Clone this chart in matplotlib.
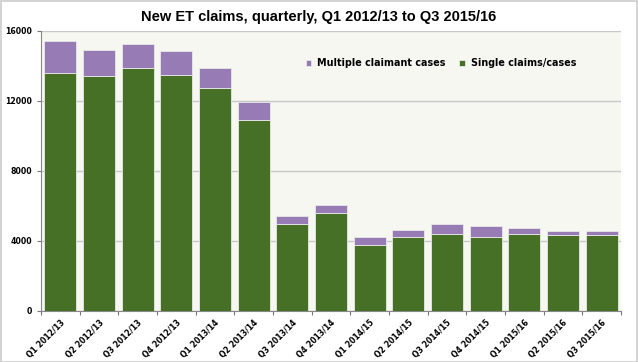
import matplotlib as mpl
import matplotlib.pyplot as plt
from matplotlib.patches import Rectangle

quarters = ['Q1 2012/13', 'Q2 2012/13', 'Q3 2012/13', 'Q4 2012/13',
            'Q1 2013/14', 'Q2 2013/14', 'Q3 2013/14', 'Q4 2013/14',
            'Q1 2014/15', 'Q2 2014/15', 'Q3 2014/15', 'Q4 2014/15',
            'Q1 2015/16', 'Q2 2015/16', 'Q3 2015/16']
single = [13580, 13410, 13870, 13490, 12720, 10910, 4970, 5600,
          3770, 4230, 4380, 4210, 4420, 4320, 4320]
multiple = [1850, 1500, 1390, 1350, 1160, 1030, 480, 460,
            440, 420, 610, 650, 340, 230, 270]

green = '#457025'
purple = '#977bb4'

mpl.rcParams['font.family'] = 'DejaVu Sans'

fig = plt.figure(figsize=(6.38, 3.62), dpi=100)
ax = fig.add_axes([41 / 638, 1 - 311 / 362, 580 / 638, 280 / 362])
ax.set_facecolor('#f6f7f1')

x = range(len(quarters))
ax.bar(x, single, 0.83, color=green, edgecolor='#e8e8e8', linewidth=0.6,
       label='Single claims/cases', zorder=3)
ax.bar(x, multiple, 0.83, bottom=single, color=purple, edgecolor='#e8e8e8',
       linewidth=0.6, label='Multiple claimant cases', zorder=3)

ax.set_xlim(-0.5, len(quarters) - 0.5)
ax.set_ylim(0, 16000)
ax.set_yticks([0, 4000, 8000, 12000, 16000])
ax.yaxis.grid(True, color='#c8c8c8', linewidth=1.0, zorder=0)

# ticks sit between the bars, labels under the bar centres
ax.set_xticks([i - 0.5 for i in range(len(quarters) + 1)], minor=False)
ax.set_xticklabels([])
ax.set_xticks(list(x), minor=True)
ax.set_xticklabels(quarters, minor=True, rotation=45, ha='right',
                   rotation_mode='anchor', fontsize=5.6, fontweight='bold')
ax.tick_params(axis='x', which='major', length=3, color='#777777', width=0.8)
ax.tick_params(axis='x', which='minor', length=0, pad=5)
ax.tick_params(axis='y', length=3, color='#777777', width=0.8, labelsize=5.6)
for lab in ax.get_yticklabels():
    lab.set_fontweight('bold')

for side in ['top', 'right']:
    ax.spines[side].set_visible(False)
for side in ['left', 'bottom']:
    ax.spines[side].set_color('#888888')
    ax.spines[side].set_linewidth(0.8)

handles, labels = ax.get_legend_handles_labels()
leg = ax.legend(handles[::-1], labels[::-1], loc='center left',
                bbox_to_anchor=(256 / 580, 1 - 32 / 280), ncol=2, frameon=False,
                handlelength=0.6, handleheight=0.6, handletextpad=0.6,
                columnspacing=1.4, prop={'size': 6.9, 'weight': 'bold'})

fig.text(0.5, 1 - 17 / 362, 'New ET claims, quarterly, Q1 2012/13 to Q3 2015/16',
         ha='center', va='center', fontsize=10.5, fontweight='bold',
         family='Liberation Sans')

fig.patches.append(Rectangle((0.001, 0.001), 0.997, 0.997,
                             transform=fig.transFigure, fill=False,
                             edgecolor='#cccccc', linewidth=1.2))

fig.savefig('out.png', dpi=100)
